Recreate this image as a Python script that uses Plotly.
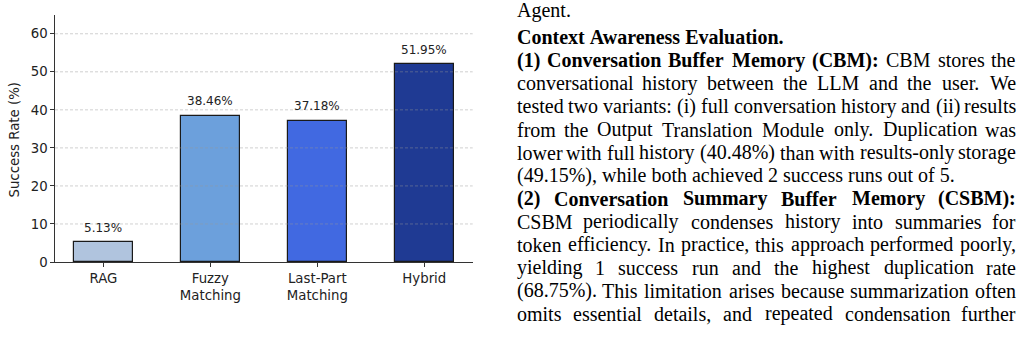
import plotly.graph_objects as go

# ---------------- data ----------------
categories = ["RAG", "Fuzzy<br>Matching", "Last-Part<br>Matching", "Hybrid"]
success_rate = [5.13, 38.46, 37.18, 51.95]
bar_colors = ["#B0C4DE", "#6CA0DC", "#4169E1", "#1F3A93"]
y_ticks = [0, 10, 20, 30, 40, 50, 60]
y_title = "Success Rate (%)"

text_lines = [
    "Agent.",
    "**Context Awareness Evaluation.**",
    "**(1) Conversation Buffer Memory (CBM):** CBM stores the",
    "conversational history between the LLM and the user. We",
    "tested two variants: (i) full conversation history and (ii) results",
    "from the Output Translation Module only. Duplication was",
    "lower with full history (40.48%) than with results-only storage",
    "(49.15%), while both achieved 2 success runs out of 5.",
    "**(2) Conversation Summary Buffer Memory (CSBM):**",
    "CSBM periodically condenses history into summaries for",
    "token efficiency. In practice, this approach performed poorly,",
    "yielding 1 success run and the highest duplication rate",
    "(68.75%). This limitation arises because summarization often",
    "omits essential details, and repeated condensation further",
]
text_justified = [False, False, True, True, True, True, True, False,
                  True, True, True, True, True, True]

# ---------------- geometry / style ----------------
W, H = 1024, 340
PLOT_L, PLOT_R, PLOT_T, PLOT_B = 55, 472.7, 15, 262
BAR_W = 0.55
Y_MAX = max(success_rate) * 1.25
n = len(categories)
pad = 0.05 * ((n - 1) + BAR_W)
x_range = [-BAR_W / 2 - pad, (n - 1) + BAR_W / 2 + pad]

CHART_FONT = "DejaVu Sans"
INK = "#222222"

TXT_FONT = "Liberation Serif"
TXT_SIZE = 20
TXT_L, TXT_R = 516, 1017
BASE0, LEAD = 17.5, 23.05
PARA_GAP = 3.5
MID_OFF = 6.75

# Times metrics (per 1000 em)
REG = {' ': 250, '(': 333, ')': 333, '%': 833, ',': 250, '-': 333, '.': 250, ':': 278,
       'A': 722, 'B': 667, 'C': 667, 'D': 722, 'E': 611, 'F': 556, 'G': 722, 'H': 722,
       'I': 333, 'J': 389, 'K': 722, 'L': 611, 'M': 889, 'N': 722, 'O': 722, 'P': 556,
       'Q': 722, 'R': 667, 'S': 556, 'T': 611, 'U': 722, 'V': 722, 'W': 944, 'X': 722,
       'Y': 722, 'Z': 611,
       'a': 444, 'b': 500, 'c': 444, 'd': 500, 'e': 444, 'f': 333, 'g': 500, 'h': 500,
       'i': 278, 'j': 278, 'k': 500, 'l': 278, 'm': 778, 'n': 500, 'o': 500, 'p': 500,
       'q': 500, 'r': 333, 's': 389, 't': 278, 'u': 500, 'v': 500, 'w': 722, 'x': 500,
       'y': 500, 'z': 444}
for d in "0123456789":
    REG[d] = 500
BOLD = {' ': 250, '(': 333, ')': 333, ':': 333, '.': 250, ',': 250,
        'A': 722, 'B': 667, 'C': 722, 'D': 722, 'E': 667, 'F': 611, 'G': 778, 'H': 778,
        'I': 389, 'L': 667, 'M': 944, 'N': 722, 'O': 778, 'P': 611, 'R': 722, 'S': 556,
        'T': 667, 'U': 722, 'W': 1000,
        'a': 500, 'b': 556, 'c': 444, 'd': 556, 'e': 444, 'f': 333, 'g': 500, 'h': 556,
        'i': 278, 'k': 556, 'l': 278, 'm': 833, 'n': 556, 'o': 500, 'p': 556, 'r': 444,
        's': 389, 't': 333, 'u': 556, 'v': 500, 'w': 722, 'x': 500, 'y': 500, 'z': 444}
for d in "0123456789":
    BOLD[d] = 500


def word_width(word, bold):
    table = BOLD if bold else REG
    return sum(table.get(c, 500) for c in word) / 1000.0 * TXT_SIZE


def parse(line):
    words = []
    for k, seg in enumerate(line.split("**")):
        for w in seg.split():
            words.append((w, k % 2 == 1))
    return words


def fmt(word, bold):
    return f"<b>{word}</b>" if bold else word


# ---------------- figure ----------------
xs = list(range(n))
fig = go.Figure()
fig.add_trace(go.Bar(
    x=xs, y=success_rate, width=BAR_W,
    marker=dict(color=bar_colors, line=dict(color="#1a1a1a", width=1.2)),
    hoverinfo="skip",
))

annotations = []
# bar value labels
for xi, v in zip(xs, success_rate):
    annotations.append(dict(
        x=xi, y=v, xref="x", yref="y", text=f"{v:.2f}%", showarrow=False,
        yanchor="middle", xanchor="center", yshift=14.5,
        font=dict(family=CHART_FONT, size=12, color=INK),
    ))
# y-axis title
annotations.append(dict(
    x=13.5 / W, y=1 - 140 / H, xref="paper", yref="paper", text=y_title,
    showarrow=False, textangle=-90, xanchor="center", yanchor="middle",
    font=dict(family=CHART_FONT, size=13.3, color=INK),
))

# text column
txt_font = dict(family=TXT_FONT, size=TXT_SIZE, color="#000000")
for i, (line, just) in enumerate(zip(text_lines, text_justified)):
    base = BASE0 + LEAD * i + (PARA_GAP if i >= 1 else 0)
    yp = 1 - (base - MID_OFF) / H
    words = parse(line)
    if not just:
        txt = " ".join(fmt(w, b) for w, b in words)
        annotations.append(dict(
            x=TXT_L / W, y=yp, xref="paper", yref="paper", text=txt, showarrow=False,
            xanchor="left", yanchor="middle", borderpad=0, font=txt_font,
        ))
        continue
    widths = [word_width(w, b) for w, b in words]
    gap = (TXT_R - TXT_L - sum(widths)) / (len(words) - 1)
    pos = TXT_L
    last_j = len(words) - 1
    for j, ((w, b), wd) in enumerate(zip(words, widths)):
        if j == 0:
            xa, xx = "left", TXT_L
        elif j == last_j:
            xa, xx = "right", TXT_R
        else:
            xa, xx = "center", pos + wd / 2
        annotations.append(dict(
            x=xx / W, y=yp, xref="paper", yref="paper", text=fmt(w, b),
            showarrow=False, xanchor=xa, yanchor="middle", borderpad=0, font=txt_font,
        ))
        pos += wd + gap

# dashed grid lines above bars
shapes = []
for t in y_ticks[1:]:
    shapes.append(dict(
        type="line", xref="x domain", yref="y", x0=0, x1=1, y0=t, y1=t,
        line=dict(color="rgba(150,150,150,0.5)", width=0.9, dash="3px,2px"),
        layer="above",
    ))

fig.update_layout(
    template="none",
    width=W, height=H, autosize=False,
    margin=dict(l=0, r=0, t=0, b=0, pad=0, autoexpand=False),
    paper_bgcolor="white", plot_bgcolor="white",
    showlegend=False, bargap=0,
    annotations=annotations, shapes=shapes,
    xaxis=dict(
        domain=[PLOT_L / W, PLOT_R / W], range=x_range, automargin=False,
        tickvals=xs, ticktext=categories,
        showline=True, linecolor="#333333", linewidth=1.2,
        ticks="outside", ticklen=3.5, tickwidth=1, tickcolor="#333333",
        showgrid=False, zeroline=False,
        tickfont=dict(family=CHART_FONT, size=13.3, color=INK),
        fixedrange=True,
    ),
    yaxis=dict(
        domain=[1 - PLOT_B / H, 1 - PLOT_T / H], range=[0, Y_MAX], automargin=False,
        tickvals=y_ticks, ticktext=[str(t) for t in y_ticks],
        showline=True, linecolor="#333333", linewidth=1.2,
        ticks="outside", ticklen=3.5, tickwidth=1, tickcolor="#333333",
        showgrid=False, zeroline=False,
        tickfont=dict(family=CHART_FONT, size=13.3, color=INK),
        fixedrange=True,
    ),
)

fig.write_html("out.html")
